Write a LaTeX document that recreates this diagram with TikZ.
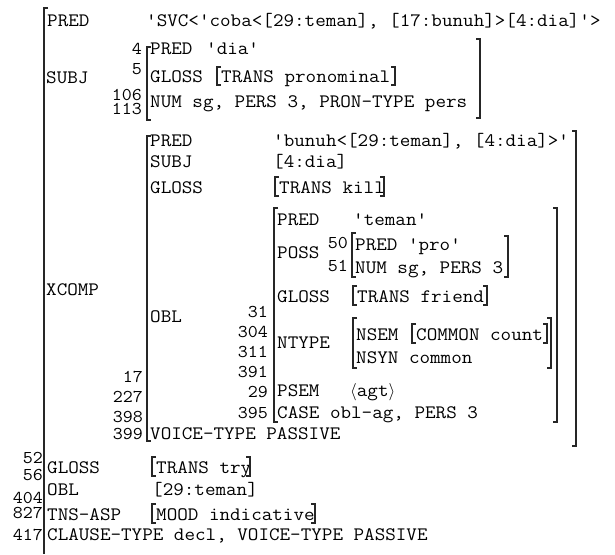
\documentclass[tikz,border=0pt]{standalone}
\usepackage{fontspec}
\setmonofont{Latin Modern Mono}[FakeStretch=1.08]
\newcommand\fsbr[4]{%
  \draw[brk] (#1+4,#3) -- (#1,#3) -- (#1,#4) -- (#1+4,#4);
  \draw[brk] (#2-4,#3) -- (#2,#3) -- (#2,#4) -- (#2-4,#4);}
\newcommand\fsbrl[3]{%
  \draw[brk] (#1+4,#2) -- (#1,#2) -- (#1,#3) -- (#1+4,#3);}
\newcommand\fsbrr[3]{%
  \draw[brk] (#1-4,#2) -- (#1,#2) -- (#1,#3) -- (#1-4,#3);}
\begin{document}
\begin{tikzpicture}[x=1pt,y=-1pt,
  txt/.style={anchor=base west, inner sep=0pt, font=\ttfamily\fontsize{19}{21}\selectfont},
  num/.style={anchor=base east, inner sep=0pt, font=\ttfamily\fontsize{18}{20}\selectfont},
  brk/.style={line width=1.3pt, black!85}]
\useasboundingbox (0,0) rectangle (615,554);
% outer bracket
\draw[brk] (48,8) -- (44,8) -- (44,554);
% top PRED
\node[txt] (pred0) at (47,27) {PRED};
\node[txt] (pred0v) at (146,27) {'SVC<'coba<[29:teman], [17:bunuh]>[4:dia]'>};
% SUBJ
\node[txt] (subj0) at (46,83) {SUBJ};
\node[num] (s4) at (142,54) {4};
\node[num] (s5) at (142,74) {5};
\node[num] (s106) at (142,100) {106};
\node[num] (s113) at (142,114) {113};
\fsbrl{147}{47}{120}
\fsbrr{480}{39}{118}
\node[txt] (sp) at (150,54) {PRED};
\node[txt] (spv) at (206,54) {'dia'};
\node[txt] (sg) at (150,82) {GLOSS};
\node[txt] (sgv) at (221,82) {TRANS pronominal};
\fsbr{217}{395}{67}{85}
\node[txt] (snum) at (150,107) {NUM sg, PERS 3, PRON-TYPE pers};
% XCOMP
\node[txt] (xc) at (46,295) {XCOMP};
\fsbrl{147}{136}{441}
\fsbrr{576}{131}{446}
\node[txt] (xp) at (150,146) {PRED};
\node[txt] (xpv) at (273,146) {'bunuh<[29:teman], [4:dia]>'};
\node[txt] (xs) at (150,167) {SUBJ};
\node[txt] (xsv) at (273,167) {[4:dia]};
\node[txt] (xg) at (150,193) {GLOSS};
\node[txt] (xgv) at (279,193) {TRANS kill};
\fsbr{275}{384}{177}{196}
\node[txt] (xo) at (150,322) {OBL};
\node[num] (x17) at (143,382) {17};
\node[num] (x227) at (143,402) {227};
\node[num] (x398) at (143,422) {398};
\node[num] (x399) at (143,439) {399};
\node[txt] (xv) at (150,439) {VOICE-TYPE PASSIVE};
% OBL inside XCOMP
\fsbr{274}{557}{208}{422}
\node[num] (o31) at (268,317) {31};
\node[num] (o304) at (268,337) {304};
\node[num] (o311) at (268,357) {311};
\node[num] (o391) at (268,377) {391};
\node[num] (o29) at (268,397) {29};
\node[num] (o395) at (268,418) {395};
\node[txt] (op) at (277,225) {PRED};
\node[txt] (opv) at (353,225) {'teman'};
\node[txt] (oposs) at (277,258) {POSS};
\node[num] (o50) at (348,248) {50};
\node[num] (o51) at (348,271) {51};
\fsbrl{352}{233}{277}
\fsbrr{508}{236}{277}
\node[txt] (pp) at (355,250) {PRED 'pro'};
\node[txt] (pn) at (355,273) {NUM sg, PERS 3};
\node[txt] (og) at (277,302) {GLOSS};
\node[txt] (ogv) at (357,302) {TRANS friend};
\fsbr{353}{487}{286}{305}
\node[txt] (ont) at (277,348) {NTYPE};
\fsbr{353}{551}{318}{368}
\node[txt] (nsem) at (356,340) {NSEM};
\node[txt] (nsemv) at (416,340) {COMMON count};
\fsbr{412}{547}{324}{343}
\node[txt] (nsyn) at (356,363) {NSYN common};
\node[txt] (ops) at (277,396) {PSEM};
\node[txt] (opsv) at (350,396) {$\langle$agt$\rangle$};
\node[txt] (oc) at (277,418) {CASE obl-ag, PERS 3};
% bottom rows
\node[num] (b52) at (43,463) {52};
\node[num] (b56) at (43,480) {56};
\node[num] (b404) at (43,503) {404};
\node[num] (b827) at (43,518) {827};
\node[num] (b417) at (43,540) {417};
\node[txt] (bg) at (47,473) {GLOSS};
\node[txt] (bgv) at (156,473) {TRANS try};
\fsbr{152}{250}{457}{476}
\node[txt] (bo) at (47,495) {OBL};
\node[txt] (bov) at (152,495) {[29:teman]};
\node[txt] (bt) at (47,520) {TNS-ASP};
\node[txt] (btv) at (156,520) {MOOD indicative};
\fsbr{152}{315}{504}{523}
\node[txt] (bc) at (47,540) {CLAUSE-TYPE decl, VOICE-TYPE PASSIVE};
\end{tikzpicture}
\end{document}
